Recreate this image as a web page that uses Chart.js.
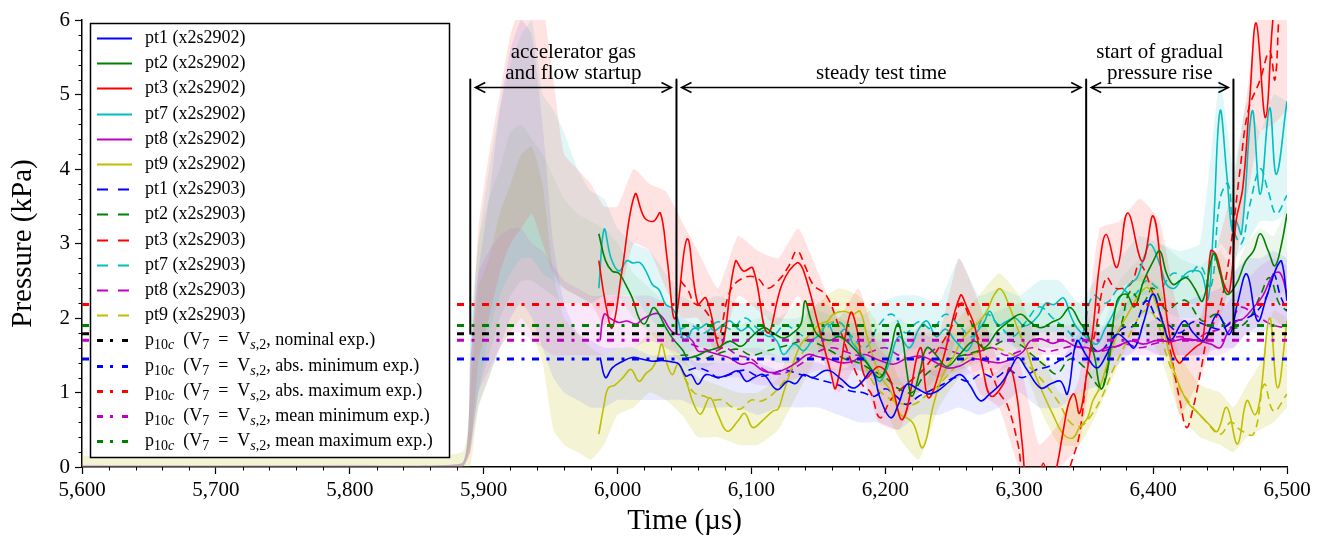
<!DOCTYPE html>
<html><head><meta charset="utf-8">
<script src="https://cdn.jsdelivr.net/npm/chart.js@4.4.0/dist/chart.umd.min.js"></script>
<style>html,body{margin:0;padding:0;background:#fff;}#wrap{width:1323px;height:539px;}</style>
</head><body><div id="wrap"><canvas id="c" width="1323" height="539"></canvas></div>
<script>
// ---------------- DATA ----------------
const xMin = 5600, xMax = 6500, yMin = 0, yMax = 6;
const xTickStep = 100, yTickStep = 1;

// smoothed traces, shot x2s2902 (solid) : [time us, pressure kPa]
const pt1_2902 = [[5987,1.47],[5991,1.2],[5996,1.33],[6004,1.42],[6011,1.47],[6018,1.45],[6026,1.42],[6033,1.43],[6041,1.41],[6046,1.38],[6051,1.22],[6055,1.24],[6060,1.11],[6066,1.24],[6075,1.2],[6083,1.24],[6090,1.29],[6096,1.15],[6102,1.2],[6109,1.24],[6119,1.04],[6127,1.15],[6133,1.12],[6139,1.24],[6146,1.2],[6154,1.29],[6159,1.29],[6167,1.18],[6176,1.06],[6183,1.15],[6190,1.29],[6196,0.93],[6204,0.66],[6210,0.85],[6216,1.11],[6224,1.05],[6232,0.98],[6239,1.02],[6248,1.15],[6256,1.24],[6263,1.1],[6271,0.89],[6278,0.98],[6286,1.11],[6293,1.3],[6299,1.47],[6305,1.33],[6316,1.06],[6324,1.12],[6331,1.15],[6336,0.98],[6343,1.69],[6350,1.5],[6358,1.33],[6365,1.5],[6373,1.78],[6380,1.7],[6386,1.6],[6393,1.95],[6400,2.32],[6407,1.95],[6413,1.7],[6423,1.96],[6430,1.8],[6438,1.7],[6448,2.05],[6457,1.78],[6463,2.2],[6470,2.59],[6478,1.96],[6485,2.3],[6492,2.67],[6496,2.76],[6500,2.23]];
const pt2_2902 = [[5986,3.13],[5991,2.77],[5996,2.63],[6001,2.6],[6006,2.45],[6011,2.27],[6016,2.0],[6020,1.92],[6024,2.05],[6027,2.14],[6031,2.05],[6036,1.87],[6041,1.73],[6049,1.56],[6052,1.47],[6060,1.5],[6067,1.56],[6075,1.6],[6084,1.69],[6092,1.62],[6099,1.73],[6109,1.87],[6116,1.8],[6124,1.73],[6131,1.8],[6137,1.92],[6140,2.23],[6144,2.0],[6149,1.78],[6158,1.7],[6166,1.75],[6176,1.6],[6186,1.4],[6196,1.2],[6203,1.5],[6209,1.92],[6213,1.7],[6216,1.29],[6220,0.95],[6226,1.3],[6231,1.6],[6238,1.5],[6246,1.35],[6255,1.5],[6266,1.69],[6274,1.6],[6284,1.83],[6292,1.95],[6301,2.05],[6308,1.95],[6316,1.87],[6325,1.95],[6331,2.0],[6338,2.14],[6345,1.95],[6351,1.78],[6356,1.5],[6361,1.05],[6366,1.3],[6373,2.23],[6380,2.32],[6386,2.15],[6393,2.5],[6400,2.76],[6405,2.9],[6410,2.6],[6415,2.45],[6420,2.5],[6425,2.54],[6431,2.4],[6437,2.23],[6445,2.86],[6450,2.6],[6455,2.32],[6462,2.45],[6469,2.76],[6475,2.9],[6480,3.13],[6486,2.9],[6491,2.7],[6496,3.0],[6500,3.4]];
const pt3_2902 = [[5986,2.77],[5991,2.2],[5996,1.87],[6003,2.6],[6013,3.66],[6020,3.35],[6027,3.3],[6032,3.41],[6037,2.8],[6043,1.99],[6052,3.06],[6060,2.19],[6066,2.27],[6077,1.6],[6088,2.76],[6094,2.63],[6101,2.67],[6112,1.8],[6123,2.46],[6134,2.74],[6139,2.63],[6151,1.83],[6159,1.29],[6163,1.06],[6174,2.07],[6179,1.83],[6185,1.2],[6195,1.35],[6203,1.2],[6213,0.64],[6226,1.6],[6232,0.93],[6242,1.38],[6256,2.3],[6261,2.14],[6267,1.87],[6273,1.3],[6279,0.95],[6288,1.11],[6293,1.33],[6298,0.98],[6302,0.35],[6307,-0.4],[6313,-0.3],[6318,0.05],[6323,-0.3],[6328,0.0],[6333,0.5],[6337,0.86],[6341,0.98],[6345,0.72],[6350,1.2],[6355,1.83],[6360,2.72],[6365,3.12],[6373,2.68],[6381,3.41],[6392,2.76],[6400,3.37],[6407,2.5],[6413,1.7],[6419,1.4],[6425,1.5],[6431,1.6],[6437,1.7],[6443,2.9],[6447,2.85],[6453,2.45],[6457,2.35],[6462,3.3],[6467,3.75],[6472,4.9],[6477,5.96],[6484,4.69],[6490,6.1],[6496,6.6],[6500,6.6]];
const pt7_2902 = [[5986,2.4],[5990,3.19],[5995,2.81],[6001,2.63],[6007,2.77],[6011,2.74],[6017,2.74],[6022,2.6],[6026,2.45],[6031,2.38],[6036,2.18],[6041,2.13],[6045,1.98],[6049,1.72],[6053,1.75],[6056,1.85],[6062,1.87],[6067,1.92],[6072,1.83],[6078,1.9],[6084,1.96],[6092,1.83],[6098,1.88],[6104,1.78],[6110,1.83],[6119,1.69],[6124,1.51],[6132,1.65],[6139,1.56],[6145,1.69],[6151,1.78],[6157,1.92],[6163,1.75],[6170,1.85],[6176,1.65],[6183,1.5],[6190,1.3],[6196,1.15],[6203,1.4],[6210,1.75],[6218,1.6],[6225,1.85],[6231,1.96],[6238,1.75],[6245,1.85],[6252,1.7],[6261,1.56],[6268,1.8],[6274,1.95],[6278,2.09],[6284,1.9],[6290,1.95],[6297,2.0],[6303,1.9],[6308,1.92],[6315,2.05],[6320,2.2],[6326,2.18],[6333,2.27],[6338,2.05],[6343,1.87],[6351,1.73],[6358,1.65],[6364,1.85],[6370,2.05],[6376,2.3],[6382,2.45],[6388,2.54],[6393,2.8],[6398,2.99],[6405,2.72],[6410,2.45],[6416,2.4],[6422,2.55],[6428,2.63],[6436,2.6],[6441,2.25],[6445,3.2],[6450,4.78],[6455,3.93],[6459,3.17],[6462,3.3],[6466,3.13],[6474,4.78],[6480,3.66],[6487,4.82],[6492,3.93],[6500,4.91]];
const pt8_2902 = [[5987,1.7],[5990,2.05],[5995,1.99],[6001,1.94],[6007,1.96],[6014,1.92],[6019,1.99],[6026,2.05],[6030,2.06],[6034,2.0],[6040,1.83],[6045,1.78],[6050,1.78],[6056,1.69],[6060,1.56],[6067,1.55],[6075,1.51],[6083,1.47],[6092,1.38],[6100,1.4],[6109,1.29],[6118,1.27],[6127,1.33],[6135,1.42],[6142,1.51],[6150,1.48],[6158,1.45],[6167,1.4],[6176,1.42],[6184,1.51],[6193,1.45],[6206,1.38],[6215,1.45],[6226,1.49],[6236,1.42],[6246,1.33],[6256,1.36],[6266,1.45],[6276,1.42],[6286,1.4],[6296,1.47],[6303,1.55],[6308,1.69],[6316,1.72],[6325,1.66],[6333,1.7],[6342,1.62],[6351,1.6],[6358,1.55],[6365,1.6],[6373,1.62],[6383,1.69],[6393,1.65],[6403,1.7],[6413,1.68],[6423,1.72],[6433,1.7],[6443,1.65],[6450,1.6],[6455,1.78],[6462,1.95],[6468,2.0],[6475,2.14],[6482,2.3],[6490,2.59],[6495,2.6],[6500,2.32]];
const pt9_2902 = [[5986,0.44],[5990,0.84],[5993,1.06],[5998,1.1],[6004,1.2],[6010,1.31],[6016,1.15],[6021,1.25],[6026,1.33],[6030,1.47],[6033,1.65],[6037,1.38],[6041,1.24],[6045,1.38],[6049,1.25],[6052,1.11],[6057,0.84],[6062,0.71],[6069,0.93],[6075,0.7],[6082,0.48],[6090,0.62],[6095,0.72],[6101,0.53],[6108,0.62],[6116,0.75],[6120,0.78],[6124,1.0],[6131,1.38],[6137,1.65],[6145,1.8],[6151,1.92],[6157,1.96],[6161,2.05],[6169,2.09],[6176,2.05],[6181,2.09],[6186,1.78],[6191,1.47],[6197,1.2],[6204,1.02],[6211,0.71],[6216,0.66],[6221,0.58],[6228,0.26],[6236,0.84],[6243,1.24],[6250,1.45],[6257,1.7],[6264,1.85],[6270,1.95],[6276,2.1],[6281,2.3],[6286,2.39],[6293,2.14],[6300,1.8],[6305,1.6],[6310,1.33],[6318,0.98],[6325,0.71],[6333,0.44],[6340,0.39],[6345,0.53],[6351,0.66],[6355,0.89],[6360,1.06],[6366,1.4],[6373,1.78],[6381,2.05],[6388,2.27],[6395,2.41],[6400,2.3],[6407,1.9],[6415,1.33],[6425,0.89],[6435,0.7],[6443,0.55],[6448,0.48],[6455,0.8],[6463,0.31],[6470,0.89],[6476,0.7],[6480,0.93],[6487,2.0],[6493,1.06],[6500,1.96]];

// smoothed traces, shot x2s2903 (dashed)
const pt1_2903 = [[6053,1.3],[6060,1.33],[6068,1.28],[6075,1.2],[6085,1.25],[6095,1.3],[6105,1.22],[6115,1.25],[6125,1.3],[6135,1.25],[6145,1.2],[6155,1.15],[6165,1.1],[6174,1.02],[6183,1.0],[6192,0.95],[6200,1.05],[6208,0.95],[6216,0.84],[6225,0.95],[6233,1.02],[6242,1.1],[6252,1.2],[6262,1.15],[6272,1.25],[6282,1.2],[6292,1.3],[6302,1.2],[6312,1.3],[6322,1.35],[6332,1.45],[6340,1.55],[6345,1.73],[6352,1.65],[6360,1.55],[6368,1.7],[6378,1.87],[6386,1.9],[6395,2.23],[6403,2.0],[6412,1.9],[6420,1.8],[6430,1.95],[6440,1.9],[6450,1.85],[6460,1.95],[6470,2.0],[6478,2.1],[6485,2.3],[6490,2.59],[6495,2.3],[6500,2.1]];
const pt2_2903 = [[6047,1.5],[6055,1.5],[6063,1.45],[6072,1.5],[6080,1.55],[6090,1.58],[6100,1.5],[6110,1.55],[6120,1.6],[6130,1.65],[6140,1.7],[6150,1.65],[6160,1.55],[6170,1.45],[6180,1.4],[6190,1.3],[6200,1.2],[6210,1.05],[6220,1.0],[6228,1.2],[6238,1.35],[6248,1.45],[6258,1.5],[6268,1.55],[6278,1.6],[6290,1.7],[6300,1.65],[6310,1.5],[6320,1.35],[6328,1.25],[6338,1.45],[6348,1.35],[6356,1.15],[6362,1.06],[6368,1.6],[6376,1.9],[6383,2.36],[6392,2.2],[6400,2.4],[6410,2.1],[6418,2.2],[6425,2.23],[6437,1.96],[6447,2.05],[6455,1.9],[6463,1.87],[6472,2.0],[6480,2.3],[6487,2.54],[6494,2.2],[6500,2.09]];
const pt3_2903 = [[6047,2.5],[6053,2.36],[6057,2.2],[6063,2.15],[6069,2.0],[6075,1.73],[6084,2.36],[6094,2.54],[6104,2.54],[6112,2.4],[6120,2.5],[6128,2.7],[6134,2.9],[6140,2.7],[6146,2.45],[6156,2.3],[6165,1.9],[6175,1.4],[6183,1.1],[6189,1.0],[6196,0.66],[6204,0.9],[6215,1.1],[6228,1.3],[6240,1.6],[6250,1.9],[6257,2.2],[6265,1.9],[6275,1.5],[6285,1.0],[6291,0.84],[6299,0.31],[6304,-0.2],[6315,-0.5],[6330,-0.5],[6338,0.0],[6345,0.44],[6351,1.33],[6357,1.83],[6365,2.54],[6372,2.4],[6383,2.45],[6390,2.72],[6400,2.32],[6410,1.78],[6420,0.89],[6425,0.53],[6430,0.8],[6436,1.33],[6441,1.78],[6447,2.0],[6453,2.4],[6459,3.1],[6465,4.0],[6471,4.78],[6480,5.2],[6487,5.58],[6491,5.2],[6495,6.3],[6500,6.8]];
const pt7_2903 = [[6047,1.85],[6055,1.9],[6065,1.8],[6075,1.95],[6085,1.85],[6095,2.0],[6105,1.85],[6115,1.75],[6125,1.9],[6135,1.8],[6145,1.7],[6155,1.85],[6165,1.95],[6175,1.75],[6185,1.6],[6195,1.9],[6205,2.05],[6215,1.8],[6225,1.95],[6235,1.85],[6245,2.05],[6255,1.9],[6265,1.75],[6275,2.05],[6285,1.9],[6295,1.75],[6305,1.95],[6315,2.15],[6325,2.0],[6335,1.85],[6345,1.7],[6355,2.3],[6365,2.2],[6375,2.4],[6385,2.3],[6395,2.5],[6405,2.4],[6415,2.6],[6425,2.55],[6435,2.7],[6443,2.4],[6450,3.6],[6456,3.8],[6460,3.2],[6466,3.0],[6472,3.5],[6480,4.0],[6486,3.7],[6492,3.4],[6500,3.65]];
const pt8_2903 = [[6047,1.75],[6055,1.65],[6063,1.6],[6072,1.55],[6080,1.6],[6090,1.5],[6100,1.45],[6110,1.3],[6118,1.25],[6126,1.27],[6134,1.35],[6142,1.45],[6150,1.55],[6160,1.6],[6170,1.55],[6180,1.5],[6190,1.55],[6200,1.6],[6210,1.5],[6220,1.45],[6230,1.5],[6240,1.6],[6250,1.55],[6260,1.5],[6270,1.55],[6280,1.6],[6290,1.5],[6300,1.55],[6310,1.6],[6320,1.55],[6330,1.58],[6340,1.62],[6350,1.58],[6360,1.55],[6370,1.6],[6380,1.65],[6390,1.6],[6400,1.65],[6410,1.7],[6420,1.75],[6430,1.7],[6440,1.8],[6450,1.85],[6458,1.95],[6465,2.14],[6472,2.1],[6480,2.0],[6490,1.9],[6500,1.87]];
const pt9_2903 = [[6050,1.2],[6057,1.0],[6065,0.95],[6072,0.9],[6078,0.9],[6086,0.8],[6092,0.78],[6100,0.9],[6106,0.88],[6114,0.95],[6122,1.1],[6130,1.3],[6137,1.5],[6145,1.7],[6152,1.85],[6160,1.95],[6168,1.9],[6176,1.7],[6184,1.4],[6192,1.1],[6202,0.93],[6212,0.85],[6221,0.84],[6230,0.95],[6240,1.1],[6250,1.3],[6260,1.45],[6270,1.55],[6280,1.6],[6290,1.55],[6300,1.45],[6310,1.3],[6320,1.1],[6330,0.85],[6338,0.6],[6346,0.55],[6354,0.7],[6362,0.95],[6370,1.3],[6378,1.6],[6386,1.9],[6394,2.1],[6402,2.0],[6410,1.5],[6420,1.06],[6430,0.8],[6440,0.6],[6450,0.44],[6458,0.6],[6465,0.5],[6475,0.44],[6483,1.11],[6490,0.75],[6500,0.98]];

// raw (unfiltered) traces, drawn as faded envelopes: time grid + lower/upper envelope per sensor
const rawT  = [5600,5700,5800,5884,5890,5896,5904,5912,5920,5928,5936,5944,5952,5960,5970,5980,5990,6000,6012,6024,6036,6048,6060,6075,6090,6105,6120,6135,6150,6165,6180,6195,6210,6225,6240,6255,6270,6285,6300,6315,6330,6345,6360,6375,6390,6405,6420,6435,6450,6460,6470,6480,6490,6500];
const raw3Lo = [0,0,0,0, 0.2,1.4,2.0,2.6,3.0,3.2,3.4,3.0,2.6,2.4, 2.3,2.2,1.9,2.2, 3.0,2.9,2.4,2.0,2.0, 1.5,2.3,2.1,1.9,2.3,1.6,1.0,1.4,0.6,0.5,1.0,1.0,1.8,1.0,0.8,0.0,0,0,0.3,2.0,2.4,2.5,2.2,0.7,1.2,2.0, 2.6,3.6,4.5,4.6,4.8];
const raw3Hi = [0.02,0.02,0.02,0.05, 1.2,3.2,4.2,5.0,5.8,6.2,6.2,6.2,5.2,4.2, 4.0,3.8,3.5,3.5, 4.0,3.8,3.7,3.3,2.9, 2.4,3.1,2.9,2.8,3.2,2.6,2.0,2.4,1.6,1.4,1.9,1.8,2.8,2.2,1.4,1.4,0.3,0.6,1.2,3.2,3.3,3.6,3.3,2.0,2.0,3.1, 3.8,5.0,6.2,6.2,6.2];
const raw7Lo = [0,0,0,0, 0.3,1.0,1.8,2.3,2.6,2.8,2.8,2.6,2.5,2.4, 2.3,2.2,2.3,2.3, 2.3,2.0,1.8,1.5,1.6, 1.6,1.6,1.5,1.4,1.4,1.5,1.5,1.3,1.2,1.5,1.6,1.5,1.5,1.6,1.7,1.6,1.8,1.8,1.6,1.8,2.0,2.3,2.3,2.2,2.2,3.0, 2.8,3.0,3.3,3.3,3.4];
const raw7Hi = [0.02,0.02,0.02,0.05, 1.8,3.0,4.0,4.8,5.4,5.8,6.0,5.0,4.8,4.5, 4.0,3.7,3.6,3.2, 3.0,2.9,2.6,2.3,2.2, 2.3,2.2,2.2,2.0,2.0,2.2,2.1,2.0,2.2,2.3,2.3,2.2,2.8,2.3,2.4,2.3,2.5,2.5,2.2,2.6,2.8,3.1,3.0,2.9,3.0,5.2, 4.0,4.9,4.5,5.0,4.9];
const raw9Lo = [0,0,0,0, 0,0.8,1.2,1.6,1.8,2.0,1.8,1.4,0.5,0.3, 0.2,0.1,0.3,0.7, 0.8,1.0,0.9,0.7,0.4, 0.4,0.3,0.3,0.5,1.0,1.5,1.7,1.6,1.0,0.4,0.1,0.8,1.2,1.5,1.9,1.5,0.8,0.3,0.3,0.8,1.4,1.9,1.5,0.7,0.4,0.3, 0.2,0.4,0.5,0.6,0.8];
const raw9Hi = [0.15,0.12,0.15,0.2, 1.0,2.4,2.8,3.4,3.8,4.2,4.3,3.8,2.6,2.0, 1.8,1.6,1.5,1.6, 1.6,1.8,1.8,1.5,1.2, 1.1,1.0,1.0,1.2,1.9,2.2,2.4,2.3,1.9,1.2,0.9,1.6,2.0,2.3,2.6,2.3,1.6,1.0,1.0,1.5,2.2,2.6,2.4,1.5,1.1,1.0, 0.8,1.1,1.4,2.1,2.0];
const raw1Lo = [0,0,0,0, 0.2,0.8,1.2,1.6,2.0,2.2,2.0,1.6,1.2,1.0, 0.9,0.8,0.8,0.9, 0.9,0.9,0.9,0.9,0.8, 0.8,0.8,0.7,0.8,0.8,0.8,0.7,0.6,0.6,0.5,0.7,0.7,0.8,0.7,0.8,1.0,0.8,0.8,1.0,1.1,1.4,1.6,1.5,1.5,1.5,1.6, 1.6,1.8,1.8,1.9,1.9];
const raw1Hi = [0.03,0.02,0.03,0.05, 1.4,2.6,3.6,4.8,5.6,6.0,5.8,4.6,3.0,2.2, 1.8,1.7,1.6,1.6, 1.6,1.5,1.5,1.5,1.4, 1.4,1.4,1.4,1.3,1.4,1.4,1.3,1.4,1.2,1.2,1.3,1.3,1.4,1.2,1.3,1.6,1.4,1.4,1.8,1.8,2.1,2.4,2.3,2.2,2.3,2.4, 2.6,2.8,2.8,2.9,2.8];
const raw8Lo = [0,0,0,0, 0.2,1.0,1.3,1.6,1.8,1.8,1.7,1.6,1.5,1.5, 1.5,1.5,1.5,1.6, 1.6,1.7,1.6,1.5,1.3, 1.2,1.2,1.1,1.1,1.2,1.3,1.3,1.3,1.2,1.2,1.3,1.2,1.2,1.3,1.3,1.4,1.5,1.5,1.4,1.4,1.5,1.5,1.5,1.5,1.5,1.5, 1.6,1.8,1.9,2.0,1.8];
const raw8Hi = [0.02,0.02,0.02,0.05, 1.5,2.6,2.9,3.1,3.2,3.2,3.0,2.9,2.7,2.5, 2.4,2.3,2.3,2.3, 2.3,2.3,2.2,2.0,1.9, 1.8,1.6,1.6,1.5,1.7,1.8,1.8,1.8,1.7,1.7,1.8,1.7,1.7,1.8,1.8,1.9,1.9,1.9,1.9,1.9,1.9,1.9,2.0,1.9,2.0,2.1, 2.3,2.5,2.7,2.8,2.7];
const raw2Lo = [0,0,0,0, 0.3,1.0,1.5,2.0,2.3,2.5,2.5,2.4,2.3,2.2, 2.2,2.2,2.3,2.3, 2.0,1.8,1.6,1.4,1.3, 1.4,1.4,1.5,1.5,1.6,1.5,1.4,1.3,1.1,1.1,1.0,1.2,1.3,1.4,1.5,1.6,1.6,1.6,1.6,1.0,1.8,2.0,2.1,2.0,2.0,2.0, 1.9,2.2,2.3,2.2,2.4];
const raw2Hi = [0.02,0.02,0.02,0.05, 1.6,3.0,3.6,4.0,4.5,4.6,4.4,4.2,3.9,3.6, 3.4,3.3,3.2,3.0, 2.6,2.4,2.2,1.9,1.8, 1.8,1.9,2.0,2.0,2.2,2.1,2.0,1.9,1.8,2.0,1.8,1.8,1.8,2.0,2.1,2.2,2.2,2.2,2.2,1.8,2.5,2.8,3.0,2.8,2.7,2.9, 2.6,3.0,3.2,3.1,3.5];

// computed p10c reference levels (kPa)
const refNominal = 1.79, refAbsMin = 1.45, refAbsMax = 2.18, refMeanMin = 1.70, refMeanMax = 1.90;

// flow-phase markers (us) and annotation labels
const markerT = [5890, 6044, 6350, 6460];
const markerTop = 5.2, markerBottom = refNominal, arrowLevel = 5.1;
const phaseLabels = [["accelerator gas", "and flow startup"], ["", "steady test time"], ["start of gradual", "pressure rise"]];

const seriesNames = ["pt1 (x2s2902)","pt2 (x2s2902)","pt3 (x2s2902)","pt7 (x2s2902)","pt8 (x2s2902)","pt9 (x2s2902)",
                     "pt1 (x2s2903)","pt2 (x2s2903)","pt3 (x2s2903)","pt7 (x2s2903)","pt8 (x2s2903)","pt9 (x2s2903)"];
const refNames = ["nominal exp.", "abs. minimum exp.", "abs. maximum exp.", "mean minimum exp.", "mean maximum exp."];

// ---------------- STYLE ----------------
const FONT = '"Liberation Serif","Times New Roman",serif';
const COL = { blue:'#0000ff', green:'#008000', red:'#ff0000', cyan:'#00bfbf', magenta:'#bf00bf', olive:'#bfbf00', black:'#000000' };
const sensorColors = [COL.blue, COL.green, COL.red, COL.cyan, COL.magenta, COL.olive];
const DASH = [8, 5];
const DASHDOT = [7, 7.5, 3, 7.5];

const toXY = arr => arr.map(p => ({ x: p[0], y: p[1] }));
const gridXY = (ts, vs) => ts.map((t, i) => ({ x: t, y: vs[i] }));

const solid = [pt1_2902, pt2_2902, pt3_2902, pt7_2902, pt8_2902, pt9_2902];
const dashed = [pt1_2903, pt2_2903, pt3_2903, pt7_2903, pt8_2903, pt9_2903];
const refVals = [refNominal, refAbsMin, refAbsMax, refMeanMin, refMeanMax];
const refColors = [COL.black, COL.blue, COL.red, COL.magenta, COL.green];
const bands = [
  { lo: raw3Lo, hi: raw3Hi, c: 'rgba(255,60,60,0.15)' },
  { lo: raw7Lo, hi: raw7Hi, c: 'rgba(40,200,200,0.14)' },
  { lo: raw1Lo, hi: raw1Hi, c: 'rgba(70,70,255,0.12)' },
  { lo: raw8Lo, hi: raw8Hi, c: 'rgba(215,60,215,0.12)' },
  { lo: raw2Lo, hi: raw2Hi, c: 'rgba(40,150,40,0.09)' },
  { lo: raw9Lo, hi: raw9Hi, c: 'rgba(200,200,40,0.20)' }
];

const datasets = [];
const markerData = [];
markerT.forEach(t => { markerData.push({x:t,y:markerTop},{x:t,y:markerBottom},{x:t,y:null}); });
datasets.push({ data: markerData, borderColor: '#000', borderWidth: 2, pointRadius: 0, spanGaps: false, tension: 0 });
refVals.forEach((v, i) => datasets.push({ data: [{x:xMin,y:v},{x:xMax,y:v}], borderColor: refColors[i], borderWidth: 3,
  borderDash: DASHDOT, borderCapStyle: 'butt', pointRadius: 0, tension: 0 }));
solid.forEach((s, i) => datasets.push({ data: toXY(s), borderColor: sensorColors[i], borderWidth: 1.6, pointRadius: 0, tension: 0.4 }));
dashed.forEach((s, i) => datasets.push({ data: toXY(s), borderColor: sensorColors[i], borderWidth: 1.6, borderDash: DASH, pointRadius: 0, tension: 0.4 }));
bands.forEach(b => {
  datasets.push({ data: gridXY(rawT, b.hi), borderColor: 'rgba(0,0,0,0)', borderWidth: 1, backgroundColor: b.c, fill: '+1', pointRadius: 0, tension: 0.15 });
  datasets.push({ data: gridXY(rawT, b.lo), borderColor: 'rgba(0,0,0,0)', borderWidth: 1, fill: false, pointRadius: 0, tension: 0.15 });
});

function richText(ctx, segs, x, y) {
  for (const [txt, kind] of segs) {
    if (kind === 'sub' || kind === 'isub') {
      ctx.font = (kind === 'isub' ? 'italic ' : '') + '14px ' + FONT;
      ctx.fillText(txt, x, y + 5);
    } else {
      ctx.font = '18px ' + FONT;
      ctx.fillText(txt, x, y);
    }
    x += ctx.measureText(txt).width;
  }
}

const overlay = {
  id: 'overlay',
  afterDatasetsDraw(chart) {
    const ctx = chart.ctx, xs = chart.scales.x, ys = chart.scales.y;
    ctx.save();
    ctx.strokeStyle = '#000'; ctx.fillStyle = '#000'; ctx.lineWidth = 1.5;
    const ay = Math.round(ys.getPixelForValue(arrowLevel)) + 0.5;
    for (let i = 0; i < markerT.length - 1; i++) {
      const x0 = xs.getPixelForValue(markerT[i]) + 5, x1 = xs.getPixelForValue(markerT[i + 1]) - 5;
      ctx.beginPath();
      ctx.moveTo(x0, ay); ctx.lineTo(x1, ay);
      ctx.moveTo(x0 + 10, ay - 5); ctx.lineTo(x0, ay); ctx.lineTo(x0 + 10, ay + 5);
      ctx.moveTo(x1 - 10, ay - 5); ctx.lineTo(x1, ay); ctx.lineTo(x1 - 10, ay + 5);
      ctx.stroke();
      const mid = (x0 + x1) / 2;
      ctx.font = '21px ' + FONT; ctx.textAlign = 'center'; ctx.textBaseline = 'middle';
      if (phaseLabels[i][0]) ctx.fillText(phaseLabels[i][0], mid, ay - 35);
      ctx.fillText(phaseLabels[i][1], mid, ay - 14);
    }
    ctx.restore();
  },
  afterDraw(chart) {
    const ctx = chart.ctx, xs = chart.scales.x, ys = chart.scales.y, a = chart.chartArea;
    ctx.save();
    ctx.strokeStyle = '#000'; ctx.lineWidth = 1;
    ctx.beginPath();
    for (let t = xMin + 20; t < xMax; t += 20) {
      if (t % 100 === 0) continue;
      const p = Math.round(xs.getPixelForValue(t)) + 0.5;
      ctx.moveTo(p, a.bottom); ctx.lineTo(p, a.bottom + 3.5);
    }
    for (let k = 1; k < 30; k++) {
      if (k % 5 === 0) continue;
      const p = Math.round(ys.getPixelForValue(k / 5)) + 0.5;
      ctx.moveTo(a.left, p); ctx.lineTo(a.left - 3.5, p);
    }
    ctx.stroke();
    // legend
    const L = 90, T = 23, W = 360, H = 435, rowH = 25.2, y0 = 38;
    ctx.fillStyle = '#fff'; ctx.fillRect(L, T, W, H);
    ctx.strokeStyle = '#000'; ctx.lineWidth = 1.5; ctx.strokeRect(L + 0.5, T + 0.5, W - 1, H - 1);
    ctx.textAlign = 'left'; ctx.textBaseline = 'middle';
    const rows = [];
    seriesNames.forEach((n, i) => rows.push({ color: sensorColors[i % 6], dash: i < 6 ? [] : [11, 10], w: 1.8, segs: [[n, '']] }));
    refNames.forEach((n, i) => rows.push({ color: refColors[i], dash: [6, 7, 3, 9], w: 3,
      segs: [['p', ''], ['10', 'sub'], ['c', 'isub'], ['\u2002(V', ''], ['7', 'sub'], ['\u2002=\u2002V', ''], ['s', 'isub'], [',2', 'sub'], [', ' + n + ')', '']] }));
    rows.forEach((r, i) => {
      const y = Math.round(y0 + i * rowH) + 0.5;
      ctx.save();
      ctx.strokeStyle = r.color; ctx.lineWidth = r.w; ctx.setLineDash(r.dash); ctx.lineCap = 'butt';
      ctx.beginPath(); ctx.moveTo(97, y); ctx.lineTo(132, y); ctx.stroke();
      ctx.restore();
      ctx.fillStyle = '#000';
      richText(ctx, r.segs, 145, y);
    });
    ctx.restore();
  }
};

new Chart(document.getElementById('c'), {
  type: 'line',
  data: { datasets },
  options: {
    responsive: false, animation: false, devicePixelRatio: 1,
    layout: { padding: { top: 20, right: 36, left: 0, bottom: 0 } },
    plugins: { legend: { display: false }, tooltip: { enabled: false } },
    elements: { line: { borderJoinStyle: 'round' } },
    scales: {
      x: {
        type: 'linear', min: xMin, max: xMax,
        ticks: { stepSize: xTickStep, color: '#000', font: { family: FONT, size: 21 }, padding: 4, maxRotation: 0,
                 callback: v => v.toLocaleString('en-US') },
        grid: { display: true, drawOnChartArea: false, drawTicks: true, tickLength: 7, tickColor: '#000', tickWidth: 1.2 },
        border: { display: true, color: '#000', width: 1.5 },
        title: { display: true, text: 'Time (µs)', color: '#000', font: { family: FONT, size: 29 }, padding: { top: 0, bottom: 0 } },
        afterFit: s => { s.height = 72; }
      },
      y: {
        type: 'linear', min: yMin, max: yMax,
        ticks: { stepSize: yTickStep, color: '#000', font: { family: FONT, size: 21 }, padding: 5 },
        grid: { display: true, drawOnChartArea: false, drawTicks: true, tickLength: 7, tickColor: '#000', tickWidth: 1.2 },
        border: { display: true, color: '#000', width: 1.5 },
        title: { display: true, text: 'Pressure (kPa)', color: '#000', font: { family: FONT, size: 29 }, padding: { top: 6, bottom: 0 } },
        afterFit: s => { s.width = 82; }
      }
    }
  },
  plugins: [overlay]
});
</script></body></html>
